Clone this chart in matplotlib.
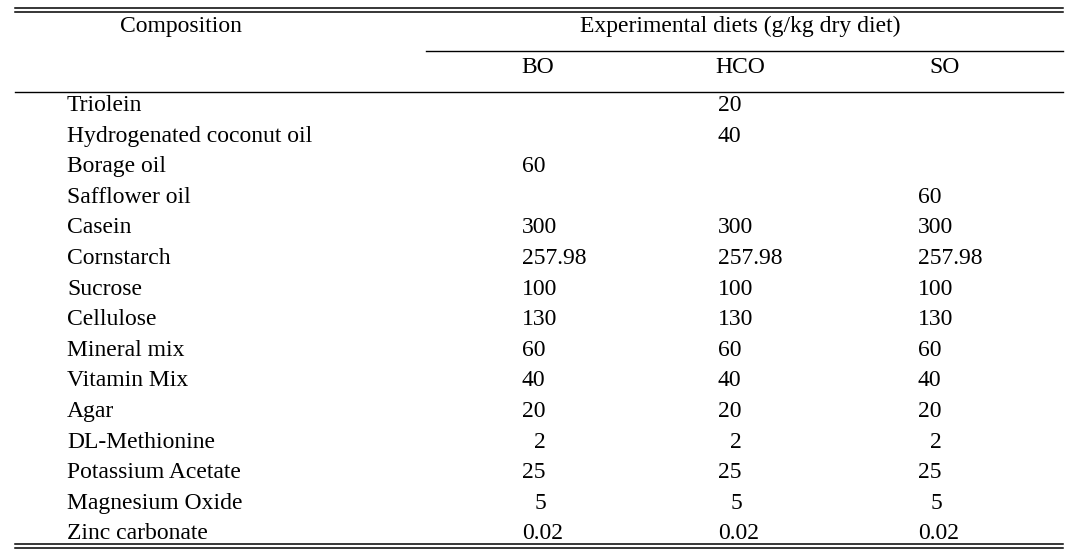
import matplotlib.pyplot as plt
from matplotlib.lines import Line2D

# ── table contents ────────────────────────────────────────────────────────────
components = ["Triolein", "Hydrogenated coconut oil", "Borage oil", "Safflower oil",
              "Casein", "Cornstarch", "Sucrose", "Cellulose", "Mineral mix",
              "Vitamin Mix", "Agar", "DL-Methionine", "Potassium Acetate",
              "Magnesium Oxide", "Zinc carbonate"]
diets = ["BO", "HCO", "SO"]
bo  = ["", "", "60", "", "300", "257.98", "100", "130", "60", "40", "20", "2", "25", "5", "0.02"]
hco = ["20", "40", "", "", "300", "257.98", "100", "130", "60", "40", "20", "2", "25", "5", "0.02"]
so  = ["", "", "", "60", "300", "257.98", "100", "130", "60", "40", "20", "2", "25", "5", "0.02"]

W, H = 1075, 556
FONT = "Liberation Serif"
FS = 17

fig = plt.figure(figsize=(W / 100, H / 100), dpi=100)
ax = fig.add_axes([0, 0, 1, 1])
ax.set_xlim(0, W)
ax.set_ylim(H, 0)
ax.axis("off")

def hline(y, x0=15, x1=1063, lw=1.1):
    ax.add_line(Line2D([x0, x1], [y, y], color="black", lw=lw))

# rules
hline(8.3); hline(11.9)
hline(50.7, x0=426, lw=1.0)
hline(91.7, lw=1.0)
hline(544.2); hline(547.9)

# header
ax.text(181, 32, "Composition", fontsize=FS, family=FONT, ha="center", va="baseline")
ax.text(740, 32, "Experimental diets (g/kg dry diet)", fontsize=FS, family=FONT,
        ha="center", va="baseline")
head_x = [538, 740, 945]
for name, x in zip(diets, head_x):
    ax.text(x, 73, name, fontsize=FS, family=FONT, ha="center", va="baseline")

# body
val_x = [522, 718, 918]
for i, comp in enumerate(components):
    y = 111 + i * 30.6
    ax.text(67, y, comp, fontsize=FS, family=FONT, ha="left", va="baseline")
    for col, x in zip((bo, hco, so), val_x):
        v = col[i]
        if not v:
            continue
        if len(v) == 1:
            ax.text(x + 18, y, v, fontsize=FS, family=FONT, ha="center", va="baseline")
        else:
            ax.text(x, y, v, fontsize=FS, family=FONT, ha="left", va="baseline")

fig.savefig("out.png", dpi=100)
